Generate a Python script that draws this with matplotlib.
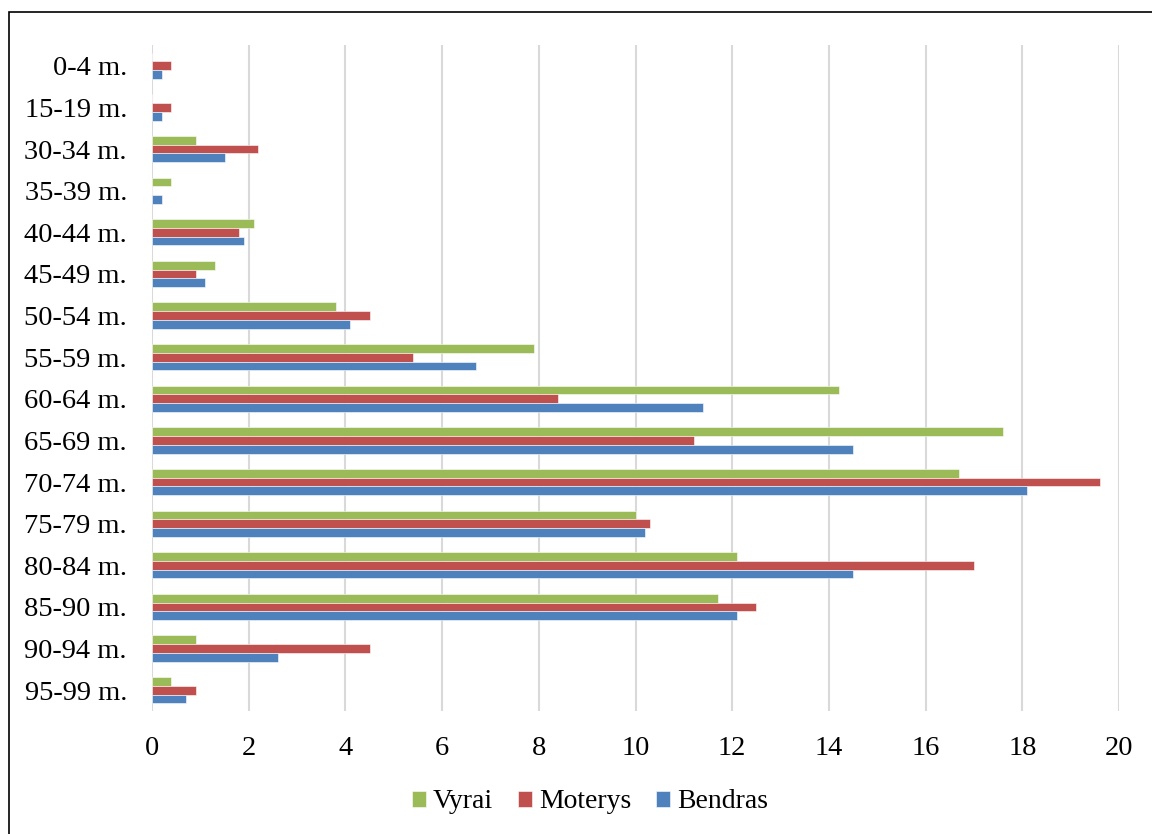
import matplotlib
matplotlib.use("Agg")
import matplotlib.pyplot as plt
import numpy as np
from matplotlib.patches import Rectangle

# age groups, top to bottom
groups = ["0-4 m.", "15-19 m.", "30-34 m.", "35-39 m.", "40-44 m.", "45-49 m.",
          "50-54 m.", "55-59 m.", "60-64 m.", "65-69 m.", "70-74 m.", "75-79 m.",
          "80-84 m.", "85-90 m.", "90-94 m.", "95-99 m."]
vyrai = [0, 0, 0.9, 0.4, 2.1, 1.3, 3.8, 7.9, 14.2, 17.6, 16.7, 10.0, 12.1, 11.7, 0.9, 0.4]
moterys = [0.4, 0.4, 2.2, 0, 1.8, 0.9, 4.5, 5.4, 8.4, 11.2, 19.6, 10.3, 17.0, 12.5, 4.5, 0.9]
bendras = [0.2, 0.2, 1.5, 0.2, 1.9, 1.1, 4.1, 6.7, 11.4, 14.5, 18.1, 10.2, 14.5, 12.1, 2.6, 0.7]
xticks = list(range(0, 21, 2))

plt.rcParams["font.family"] = ["Liberation Serif", "DejaVu Serif"]

W, H = 1152, 834
fig = plt.figure(figsize=(W / 100, H / 100), dpi=100)
ax = fig.add_axes([152 / W, 1 - 711 / H, (1119 - 152) / W, (711 - 45) / H])

y = np.arange(len(groups))
h = 0.21
series = [("Vyrai", vyrai, "#9BBB59", -h), ("Moterys", moterys, "#C0504D", 0.0),
          ("Bendras", bendras, "#4F81BD", h)]
for name, vals, col, off in series:
    ax.barh(y + off, vals, height=h, color=col, edgecolor="white", linewidth=0.4,
            label=name, zorder=3)

ax.set_ylim(len(groups) - 0.5, -0.5)
ax.set_xlim(0, 20)
ax.set_xticks(xticks)
ax.set_yticks(y)
ax.set_yticklabels(groups)
ax.tick_params(axis="both", length=0, labelsize=20.5)
ax.tick_params(axis="x", pad=18)
ax.tick_params(axis="y", pad=18)
ax.xaxis.grid(True, color="#D9D9D9", lw=1.5, zorder=0)
for s in ax.spines.values():
    s.set_visible(False)

# outer chart frame
fig.patches.append(Rectangle((9 / W, -0.1), 1.2, 1 - 12 / H + 0.1, transform=fig.transFigure,
                             fill=False, edgecolor="black", lw=1.2))

fig.legend(loc="center", bbox_to_anchor=(590 / W, 1 - 802 / H), ncol=3, frameon=False,
           fontsize=20, handlelength=0.5, handleheight=0.5, handletextpad=0.25,
           columnspacing=0.9)

fig.savefig("out.png", dpi=100)
